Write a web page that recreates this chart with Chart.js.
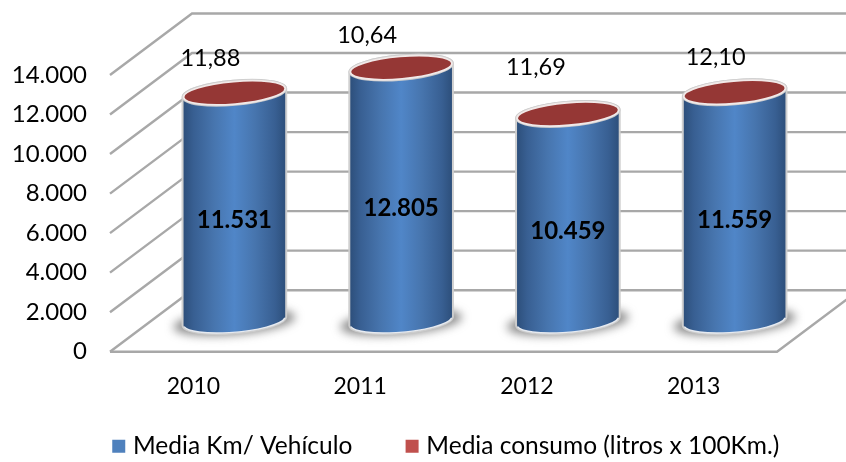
<!DOCTYPE html>
<html><head><meta charset="utf-8">
<style>html,body{margin:0;padding:0;background:#fff}canvas{display:block;filter:blur(0.45px)}</style>
<script src="https://cdn.jsdelivr.net/npm/chart.js@4"></script>
</head><body><canvas id="c" width="846" height="462"></canvas>
<script>
const categories = ['2010','2011','2012','2013'];
const mediaKm = [11531,12805,10459,11559];
const mediaConsumo = [11.88,10.64,11.69,12.10];
const yTicks = [0,2000,4000,6000,8000,10000,12000,14000];

const FONT = 'Lato, "Open Sans", sans-serif';
const FS = 23.5;
const DEPTH_X = 82, DEPTH_Y = 61.5;
const TILT = -5 * Math.PI / 180;
const LID_RY = 11.3;
const GRID = '#a8a8a8';
const lidLabelShift = [[-24,-34],[-34,-32],[-32,-47],[-19,-35]];
const fmtKm = v => String(v).replace(/\B(?=(\d{3})+$)/g,'.');
const fmtCons = v => v.toFixed(2).replace('.',',');

const cyl3d = {
  id:'cyl3d',
  beforeLayout(chart){
    const lg = chart.legend;
    if(lg && !lg._patched){
      const f = lg.fit;
      lg.fit = function(){ f.call(this); this.height = 26; };
      lg._patched = true;
    }
  },
  beforeDraw(chart){
    const lg = chart.legend;
    lg.left = 116.75 - lg.options.labels.padding;
    lg.right = 900;
    lg.top = 434 - lg.options.labels.padding;
  },
  beforeDatasetsDraw(chart){
    const {ctx, chartArea:a, scales:{y}} = chart;
    ctx.save();
    ctx.lineCap = 'butt';
    ctx.strokeStyle = GRID;
    ctx.lineWidth = 2.4;
    yTicks.forEach(t=>{
      const py = y.getPixelForValue(t);
      ctx.beginPath();
      ctx.moveTo(a.left,py);
      ctx.lineTo(a.left+DEPTH_X,py-DEPTH_Y);
      ctx.lineTo(a.right+DEPTH_X,py-DEPTH_Y);
      ctx.stroke();
    });
    const py0 = y.getPixelForValue(0);
    ctx.beginPath();
    ctx.moveTo(a.left,py0);
    ctx.lineTo(a.right,py0);
    ctx.lineTo(a.right+DEPTH_X,py0-DEPTH_Y);
    ctx.stroke();
    chart.getDatasetMeta(0).data.forEach(el=>{
      const cx = el.x + DEPTH_X/2, by = el.base - DEPTH_Y/2;
      ctx.save();
      ctx.filter = 'blur(5px)';
      ctx.fillStyle = 'rgba(95,95,95,0.72)';
      ctx.beginPath();
      ctx.ellipse(cx, by+1, el.width/2+10, LID_RY+1.5, TILT, 0, Math.PI*2);
      ctx.fill();
      ctx.restore();
    });
    ctx.restore();
  },
  beforeDatasetDraw(chart,args){
    if(args.index!==0) return false;
    const {ctx} = chart;
    ctx.save();
    args.meta.data.forEach(el=>{
      const cx = el.x + DEPTH_X/2, rx = el.width/2;
      const ty = el.y - DEPTH_Y/2, by = el.base - DEPTH_Y/2;
      const path = ()=>{
        ctx.beginPath();
        ctx.ellipse(cx,by,rx,LID_RY,TILT,0,Math.PI);
        ctx.ellipse(cx,ty,rx,LID_RY,TILT,Math.PI,Math.PI*2);
        ctx.closePath();
      };
      path();
      ctx.strokeStyle = 'rgba(205,205,205,0.95)';
      ctx.lineWidth = 4;
      ctx.stroke();
      path();
      const g = ctx.createLinearGradient(cx-rx,0,cx+rx,0);
      g.addColorStop(0,'#2d4f7b');
      g.addColorStop(.1,'#385f92');
      g.addColorStop(.3,'#4775ae');
      g.addColorStop(.5,'#5086c8');
      g.addColorStop(.7,'#4775ae');
      g.addColorStop(.9,'#385f92');
      g.addColorStop(1,'#2d4f7b');
      ctx.fillStyle = g;
      ctx.fill();
      ctx.beginPath();
      ctx.ellipse(cx,by,rx,LID_RY,TILT,0.12,Math.PI-0.12);
      ctx.strokeStyle = '#e6eaf0';
      ctx.lineWidth = 1.4;
      ctx.stroke();
    });
    ctx.restore();
    return false;
  },
  afterDatasetsDraw(chart){
    const {ctx} = chart;
    const m0 = chart.getDatasetMeta(0).data, m1 = chart.getDatasetMeta(1).data;
    ctx.save();
    m1.forEach(el=>{
      const cx = el.x + DEPTH_X/2, ty = el.y - DEPTH_Y/2;
      ctx.beginPath();
      ctx.ellipse(cx,ty,el.width/2,LID_RY,TILT,0,Math.PI*2);
      ctx.strokeStyle = 'rgba(205,205,205,0.95)';
      ctx.lineWidth = 3.6;
      ctx.stroke();
      ctx.fillStyle = '#953735';
      ctx.fill();
      ctx.strokeStyle = '#f1e9e8';
      ctx.lineWidth = 1.8;
      ctx.stroke();
    });
    ctx.fillStyle = '#000';
    ctx.textAlign = 'center';
    ctx.textBaseline = 'middle';
    m0.forEach((el,i)=>{
      const cx = el.x + DEPTH_X/2;
      const mid = (el.y + el.base)/2 - DEPTH_Y/2;
      ctx.font = 'bold 24px '+FONT;
      ctx.fillText(fmtKm(mediaKm[i]), cx, mid+13.5);
      const lid = m1[i];
      ctx.font = FS+'px '+FONT;
      ctx.fillText(fmtCons(mediaConsumo[i]), cx+lidLabelShift[i][0], lid.y-DEPTH_Y/2+lidLabelShift[i][1]);
    });
    ctx.restore();
  }
};

new Chart(document.getElementById('c'),{
  type:'bar',
  data:{labels:categories,datasets:[
    {label:'Media Km/ Vehículo',data:mediaKm,backgroundColor:'#4f81bd',borderWidth:0,stack:'s'},
    {label:'Media consumo (litros x 100Km.)',data:mediaConsumo,backgroundColor:'#c0504d',borderWidth:0,stack:'s'}
  ]},
  options:{
    responsive:false,animation:false,devicePixelRatio:1,
    layout:{padding:{top:75,right:69,left:0,bottom:0}},
    datasets:{bar:{categoryPercentage:1,barPercentage:0.612}},
    scales:{
      x:{stacked:true,grid:{display:false,drawTicks:false},border:{display:false},
         ticks:{color:'#000',font:{family:FONT,size:23},padding:21,maxRotation:0},
         afterFit(s){s.height=84.3;}},
      y:{stacked:true,min:0,max:14000,grid:{display:false,drawTicks:false},border:{display:false},
         afterBuildTicks(s){s.ticks=yTicks.map(v=>({value:v}));},
         ticks:{color:'#000',font:{family:FONT,size:24},padding:23,labelOffset:0,callback:v=>fmtKm(v)},
         afterFit(s){s.width=110;}}
    },
    plugins:{
      tooltip:{enabled:false},
      legend:{position:'bottom',align:'start',
        labels:{color:'#000',font:{family:FONT,size:24.5},usePointStyle:true,pointStyle:'rect',boxWidth:4,boxHeight:13,padding:57.75}}
    }
  },
  plugins:[cyl3d]
});
</script></body></html>
